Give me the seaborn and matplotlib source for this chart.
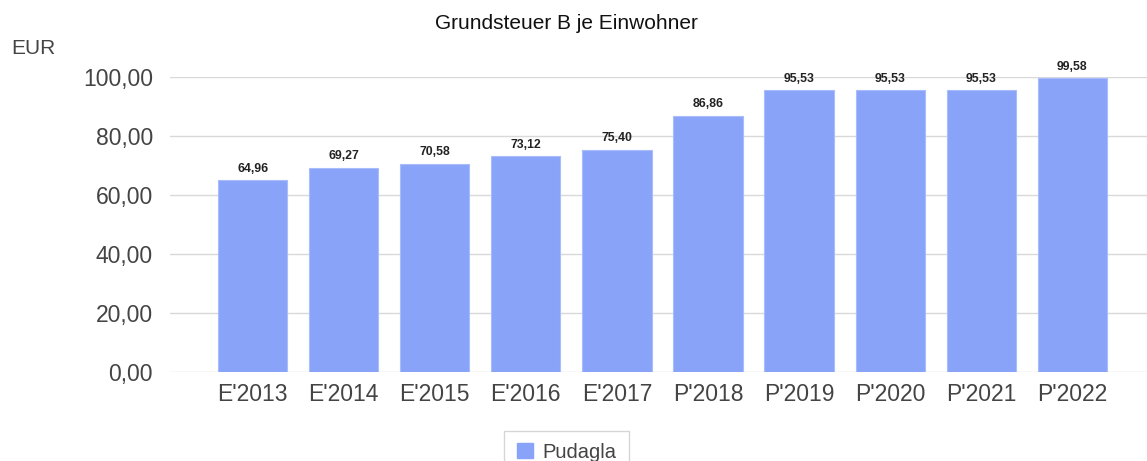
import pandas as pd
import numpy as np
import matplotlib
matplotlib.use("Agg")
import matplotlib.pyplot as plt
from matplotlib.patches import Patch
import seaborn as sns

# Data
years = ["E'2013", "E'2014", "E'2015", "E'2016", "E'2017",
         "P'2018", "P'2019", "P'2020", "P'2021", "P'2022"]
values = [64.96, 69.27, 70.58, 73.12, 75.40, 86.86, 95.53, 95.53, 95.53, 99.58]
series_name = "Pudagla"
y_ticks = [0, 20, 40, 60, 80, 100]

df = pd.DataFrame({"year": years, "value": values})

BAR_COLOR = "#89a3f9"

sns.set_style("white")
plt.rcParams['font.family'] = ['Liberation Sans', 'DejaVu Sans']

fig = plt.figure(figsize=(11.47, 4.61), dpi=100)
ax = fig.add_axes([0.148, 0.193, 0.852, 0.64])

sns.barplot(data=df, x="year", y="value", color=BAR_COLOR, width=0.76,
            saturation=1, edgecolor="#a9bcfb", linewidth=0.8, ax=ax, zorder=3)

# German number format for labels
def de(v):
    return f"{v:,.2f}".replace(",", "X").replace(".", ",").replace("X", ".")

ax.bar_label(ax.containers[0], labels=[de(v) for v in values], padding=4,
             fontsize=8.8, fontweight="bold", color="#222222", clip_on=False)

ax.set_ylim(0, 100)
ax.set_xlim(-0.91, 9.82)
ax.set_yticks(y_ticks)
ax.set_yticklabels([de(v) for v in y_ticks], fontsize=16.5, color="#444444")
ax.tick_params(axis="x", labelsize=16.5, labelcolor="#444444", length=0, pad=8)
ax.tick_params(axis="y", length=0, pad=12)
ax.set_xlabel("")
ax.set_ylabel("")
ax.grid(axis="y", color="#d9d9d9", linewidth=1, zorder=0)
for s in ax.spines.values():
    s.set_visible(False)

fig.text(0.494, 0.950, "Grundsteuer B je Einwohner", ha="center", va="center",
         fontsize=15, color="#111111")
fig.text(0.010, 0.895, "EUR", ha="left", va="center", fontsize=15, color="#444444")

handle = Patch(facecolor=BAR_COLOR, edgecolor=BAR_COLOR)
leg = fig.legend([handle], [series_name], loc="upper center",
                 bbox_to_anchor=(0.494, 0.088), fontsize=14.5, frameon=True,
                 fancybox=False, edgecolor="#cccccc", handlelength=0.8,
                 handleheight=0.8, handletextpad=0.5, borderpad=0.6,
                 labelcolor="#444444")
leg.get_frame().set_linewidth(1)

fig.savefig("out.png", dpi=100)
